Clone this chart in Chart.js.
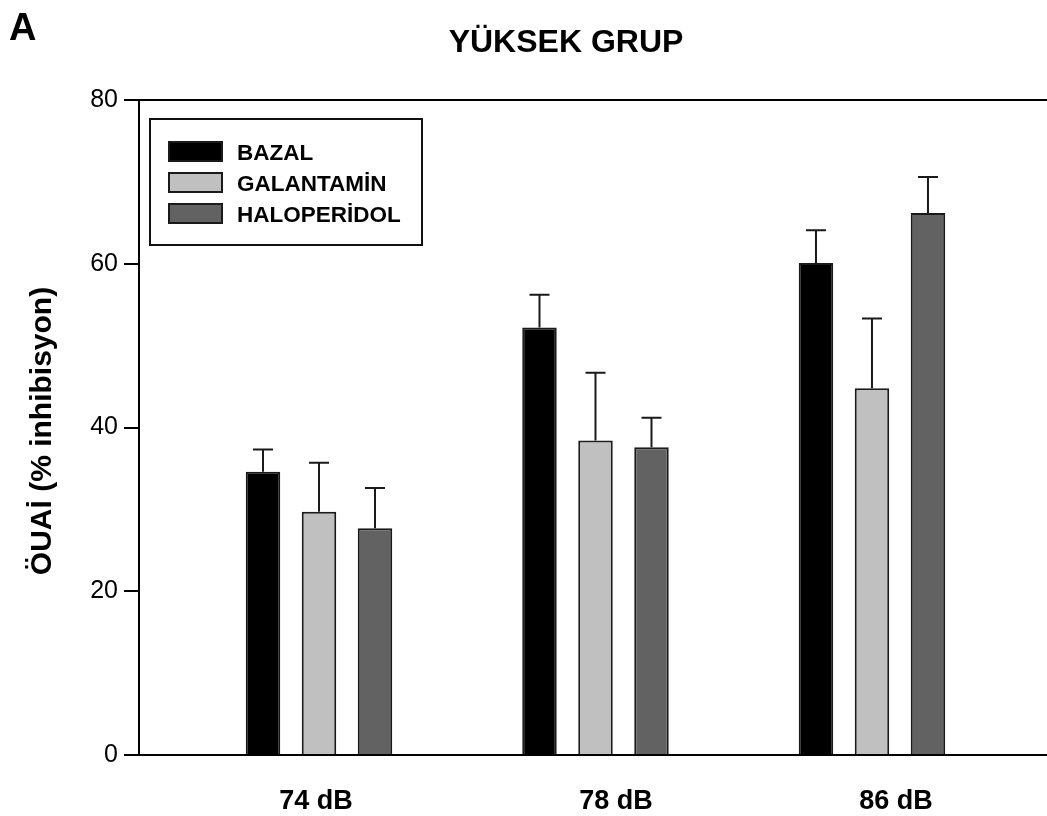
<!DOCTYPE html>
<html>
<head>
<meta charset="utf-8">
<script src="https://cdn.jsdelivr.net/npm/chart.js@4/dist/chart.umd.min.js"></script>
<style>
  html, body { margin: 0; padding: 0; background: #fff; }
  #wrap { width: 1047px; height: 816px; position: relative; }
</style>
</head>
<body>
<div id="wrap"><canvas id="c" width="1047" height="816"></canvas></div>
<script>
// Stimulus intensities on the x axis
const categories = ['74 dB', '78 dB', '86 dB'];
// Treatment groups
const seriesNames = ['BAZAL', 'GALANTAMİN', 'HALOPERİDOL'];
// Mean prepulse inhibition (%) and SEM for each group
const bazal = [34.6, 52.2, 60.1];
const bazalErr = [2.7, 4.0, 4.0];
const galantamin = [29.7, 38.4, 44.8];
const galantaminErr = [6.0, 8.3, 8.5];
const haloperidol = [27.7, 37.6, 66.2];
const haloperidolErr = [4.9, 3.6, 4.4];
// Y axis ticks
const yTicks = [0, 20, 40, 60, 80];

const FONT = "'Liberation Sans', Arial, sans-serif";
const fills = ['#000000', '#c0c0c0', '#626262'];
const values = [bazal, galantamin, haloperidol];
const errors = [bazalErr, galantaminErr, haloperidolErr];

// x range and category label placement, in category units
const xMin = -0.651, xMax = 2.633;
const labelShift = [-0.011, 0.074, 0.087];

const datasets = seriesNames.map((name, s) => ({
  label: name,
  data: values[s].map((v, i) => ({ x: i, y: v })),
  errors: errors[s],
  backgroundColor: fills[s],
  borderColor: '#1a1a1a',
  borderWidth: 2,
  borderSkipped: 'bottom',
  categoryPercentage: 0.6076,
  barPercentage: 0.616
}));

const errorBars = {
  id: 'errorBars',
  afterDatasetsDraw(chart) {
    const ctx = chart.ctx, y = chart.scales.y;
    ctx.save();
    ctx.strokeStyle = '#1a1a1a';
    ctx.lineWidth = 2;
    chart.data.datasets.forEach((ds, di) => {
      chart.getDatasetMeta(di).data.forEach((bar, i) => {
        const top = y.getPixelForValue(ds.data[i].y + ds.errors[i]);
        ctx.beginPath();
        ctx.moveTo(bar.x, bar.y);
        ctx.lineTo(bar.x, top);
        ctx.moveTo(bar.x - 10, top);
        ctx.lineTo(bar.x + 10, top);
        ctx.stroke();
      });
    });
    ctx.restore();
  }
};

const decorations = {
  id: 'decorations',
  afterDraw(chart) {
    const ctx = chart.ctx, a = chart.chartArea;
    ctx.save();
    // frame line along the top of the plot
    ctx.strokeStyle = '#000';
    ctx.lineWidth = 2;
    ctx.beginPath();
    ctx.moveTo(a.left - 1, a.top);
    ctx.lineTo(a.right, a.top);
    ctx.stroke();

    // panel letter and title
    ctx.fillStyle = '#000';
    ctx.textBaseline = 'alphabetic';
    ctx.textAlign = 'left';
    ctx.font = 'bold 38px ' + FONT;
    ctx.fillText('A', 9, 40);
    ctx.textAlign = 'center';
    ctx.font = 'bold 32px ' + FONT;
    ctx.fillText('YÜKSEK GRUP', 566, 52);

    // y axis title
    ctx.save();
    ctx.translate(51, 431);
    ctx.rotate(-Math.PI / 2);
    ctx.font = 'bold 30px ' + FONT;
    ctx.textAlign = 'center';
    ctx.fillText('ÖUAİ (% inhibisyon)', 0, 0);
    ctx.restore();

    // legend box
    const bx = 150, by = 119, bw = 272, bh = 126;
    ctx.fillStyle = '#fff';
    ctx.fillRect(bx, by, bw, bh);
    ctx.lineWidth = 2;
    ctx.strokeStyle = '#111';
    ctx.strokeRect(bx, by, bw, bh);
    ctx.font = 'bold 22.5px ' + FONT;
    ctx.textAlign = 'left';
    chart.data.datasets.forEach((ds, i) => {
      const ry = 142 + i * 31;
      ctx.fillStyle = ds.backgroundColor;
      ctx.fillRect(169, ry, 53, 19);
      ctx.strokeStyle = '#1a1a1a';
      ctx.strokeRect(169, ry, 53, 19);
      ctx.fillStyle = '#000';
      ctx.fillText(ds.label, 237, ry + 18);
    });
    ctx.restore();
  }
};

new Chart(document.getElementById('c'), {
  type: 'bar',
  data: { datasets },
  options: {
    responsive: false,
    animation: false,
    layout: { padding: { top: 100, left: 0, right: 0, bottom: 0 } },
    plugins: { legend: { display: false }, tooltip: { enabled: false }, title: { display: false } },
    scales: {
      x: {
        type: 'linear',
        min: xMin,
        max: xMax,
        offset: false,
        grid: { display: false },
        border: { display: true, color: '#000', width: 2 },
        afterBuildTicks(scale) {
          scale.ticks = categories.map((c, i) => ({ value: i + labelShift[i] }));
        },
        afterFit(scale) { scale.height = 61; },
        ticks: {
          autoSkip: false,
          maxRotation: 0,
          padding: 22,
          color: '#000',
          font: { family: FONT, size: 27, weight: 'bold' },
          callback: (v, i) => categories[i]
        }
      },
      y: {
        min: 0,
        max: 80,
        afterBuildTicks(scale) {
          scale.ticks = yTicks.map(v => ({ value: v }));
        },
        afterFit(scale) { scale.width = 139; },
        grid: { display: true, drawOnChartArea: false, drawTicks: true, tickLength: 15, color: '#000', lineWidth: 2 },
        border: { display: true, color: '#000', width: 2 },
        ticks: {
          padding: 6,
          color: '#000',
          font: { family: FONT, size: 25 }
        }
      }
    }
  },
  plugins: [errorBars, decorations]
});
</script>
</body>
</html>
